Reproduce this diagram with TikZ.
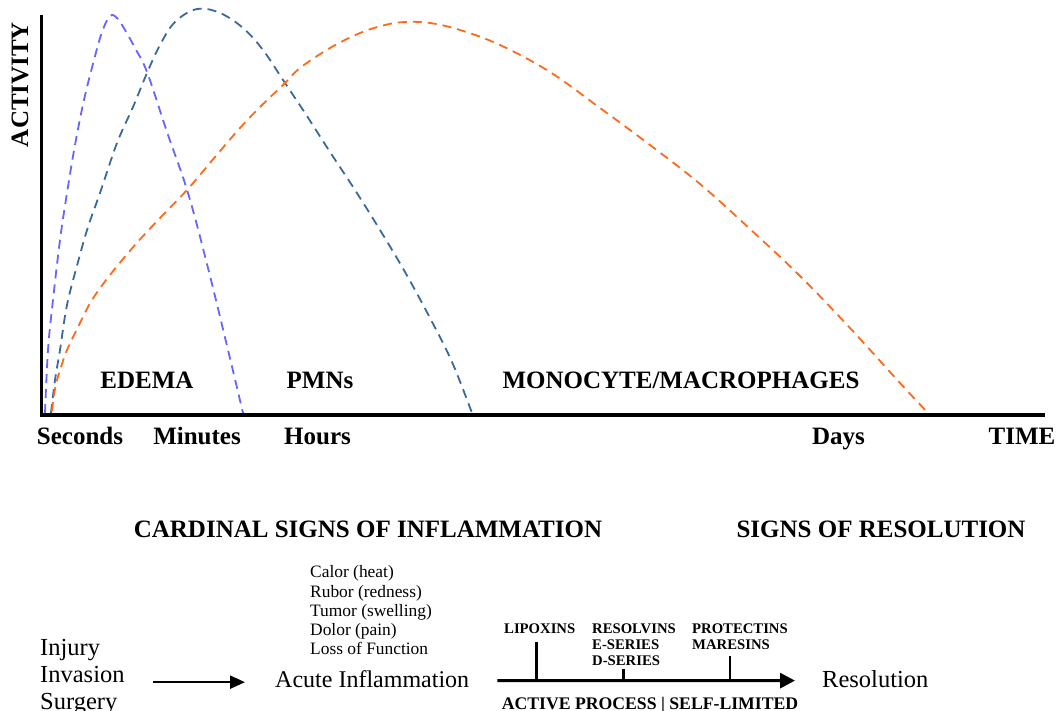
\documentclass[tikz,border=0pt]{standalone}
\usepackage{fontspec}
\setmainfont{Liberation Serif}
\usepackage{tikz}
\usetikzlibrary{arrows.meta,positioning}

\definecolor{edemablue}{RGB}{102,102,255}
\definecolor{pmnblue}{RGB}{58,106,156}
\definecolor{macroorange}{RGB}{255,106,26}

\tikzset{
	axislabel/.style={font=\fontsize{25}{30}\selectfont\bfseries, inner sep=0pt, anchor=base},
	mediator/.style={font=\fontsize{14.7}{16}\selectfont\bfseries, inner sep=0pt, align=left, anchor=north west},
	plaintext/.style={font=\fontsize{24.5}{27}\selectfont, inner sep=0pt},
	response/.style={line width=1.8pt, dash pattern=on 9pt off 6pt},
	tick/.style={line width=2.5pt},
}

\begin{document}
\begin{tikzpicture}[x=1pt,y=-1pt]
	\useasboundingbox (0,0) rectangle (1059,711);

	% activity over time
	\coordinate (ytop) at (41.5,15);
	\coordinate (xend) at (1045,415);
	\draw [line width=3.5pt] (ytop) |- (xend);

	\draw [response, edemablue] plot [smooth, tension=0.6] coordinates {(45,413) (48,350) (53,300) (60,240) (67,193) (75,145) (84,100) (94,60) (102,32) (110,16) (117,18) (125,30) (135,48) (147,72) (167,132) (188,193) (208,268) (228,350) (243,413)};
	\draw [response, pmnblue] plot [smooth, tension=0.6] coordinates {(51,413) (55,380) (60,350) (67,305) (78,262) (88,227) (100,193) (117,143) (133,107) (147,73) (160,45) (175,22) (197,9) (220,13) (243,28) (263,50) (283,80) (305,113) (330,152) (355,190) (380,230) (405,272) (430,318) (452,362) (472,413)};
	\draw [response, macroorange] plot [smooth, tension=0.6] coordinates {(52,411) (54,395) (57,380) (62,364) (67,350) (80,323) (92,300) (110,275) (135,245) (160,218) (187,190) (215,157) (240,128) (262,105) (283,85) (300,68) (330,48) (360,33) (385,25) (405,22) (430,23) (460,30) (500,45) (550,72) (600,108) (650,145) (700,184) (750,229) (800,276) (850,328) (900,383) (928,413)};

	\node [axislabel, rotate=90] (activity) at (28,84.5) {ACTIVITY};
	\node [axislabel] (edema) at (147,388) {EDEMA};
	\node [axislabel] (pmns) at (320,388) {PMNs};
	\node [axislabel] (mono) at (681,388) {MONOCYTE/MACROPHAGES};

	\node [axislabel] (seconds) at (80,444.5) {Seconds};
	\node [axislabel] (minutes) at (197,444.5) {Minutes};
	\node [axislabel] (hours) at (317.5,444.5) {Hours};
	\node [axislabel] (days) at (838.5,444.5) {Days};
	\node [axislabel] (time) at (1022,444.5) {TIME};

	\node [axislabel] (cardinal) at (368,537) {CARDINAL SIGNS OF INFLAMMATION};
	\node [axislabel] (signsres) at (881,537) {SIGNS OF RESOLUTION};

	% from injury to resolution
	\node [plaintext, align=left, anchor=north west] (cause) at (40,639.3) {Injury\\Invasion\\Surgery};
	\node [plaintext, font=\fontsize{24}{27}\selectfont, anchor=base west] (acute) at (275,687.5) {Acute Inflammation};
	\node [plaintext, anchor=base west] (resol) at (822,687.5) {Resolution};
	\node [font=\fontsize{17.4}{19.3}\selectfont, inner sep=0pt, align=left, anchor=north west] (signs) at (310,565.5) {Calor (heat)\\Rubor (redness)\\Tumor (swelling)\\Dolor (pain)\\Loss of Function};

	\draw [line width=2.3pt, -{Triangle[length=15pt,width=13pt]}, shorten <=28pt, shorten >=30pt] ([yshift=-3pt]cause.east |- acute.west) -- ([yshift=-3pt]acute.west);
	\draw [line width=3pt, -{Triangle[length=15pt,width=15pt]}, shorten <=28pt, shorten >=27pt] ([yshift=-1.5pt]acute.east) -- ([yshift=-1.5pt]resol.west);
	\path ([yshift=-1.5pt]acute.east) -- ([yshift=-1.5pt]resol.west) coordinate[pos=0.19] (lipoxtick) coordinate[pos=0.437] (resolvtick) coordinate[pos=0.739] (protecttick);

	\draw [tick] (lipoxtick) -- ++(0,-39);
	\draw [tick] (resolvtick) -- ++(0,-12);
	\draw [tick] (protecttick) -- ++(0,-25);

	\node [mediator] (lipox) at (504,623.3) {LIPOXINS};
	\node [mediator] (resolv) at (592,623.3) {RESOLVINS\\E-SERIES\\D-SERIES};
	\node [mediator] (protect) at (692,623.3) {PROTECTINS\\MARESINS};
	\node [font=\fontsize{17.7}{20}\selectfont\bfseries, inner sep=0pt, anchor=base] (active) at (650,709) {ACTIVE PROCESS | SELF-LIMITED};

\end{tikzpicture}
\end{document}
